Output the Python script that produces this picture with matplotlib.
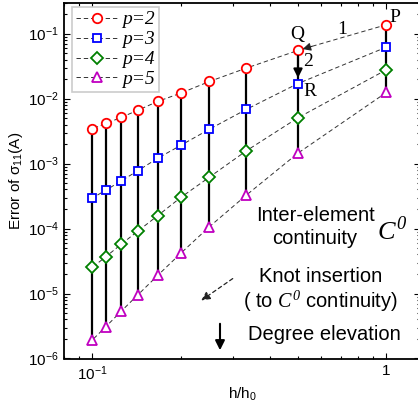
import matplotlib
matplotlib.use("Agg")
import matplotlib.pyplot as plt
from matplotlib.ticker import NullFormatter, LogLocator
import numpy as np

plt.rcParams['font.family'] = ['Liberation Sans', 'DejaVu Sans']
plt.rcParams['mathtext.fontset'] = 'custom'
plt.rcParams['mathtext.default'] = 'regular'
plt.rcParams['mathtext.it'] = 'Liberation Serif:italic'
plt.rcParams['mathtext.rm'] = 'Liberation Serif:italic'

# ---- data ----
h = [1.0, 1/2, 1/3, 1/4, 1/5, 1/6, 1/7, 1/8, 1/9, 1/10]
err_p2 = [0.1376, 0.0553, 0.0295, 0.0184, 0.0122, 0.00906, 0.00665, 0.00513, 0.00415, 0.00344]
err_p3 = [0.0622, 0.0171, 0.00682, 0.00339, 0.00192, 0.00121, 7.8e-4, 5.4e-4, 3.9e-4, 2.97e-4]
err_p4 = [0.0279, 0.00508, 0.00157, 6.2e-4, 3.03e-4, 1.58e-4, 9.2e-5, 5.7e-5, 3.7e-5, 2.54e-5]
err_p5 = [0.0125, 1.45e-3, 3.26e-4, 1.07e-4, 4.2e-5, 1.9e-5, 9.6e-6, 5.3e-6, 3.1e-6, 1.94e-6]
series_labels = ['p=2', 'p=3', 'p=4', 'p=5']
xticks = [0.1, 1.0]
xticklabels = ['10$^{-1}$', '1']
yticks = [1e-6, 1e-5, 1e-4, 1e-3, 1e-2, 1e-1]
yticklabels = ['10$^{-6}$', '10$^{-5}$', '10$^{-4}$', '10$^{-3}$', '10$^{-2}$', '10$^{-1}$']

W, H = 418, 405
fig = plt.figure(figsize=(W/100, H/100), dpi=100)

def fp(x, y):
    return (x / W, 1 - y / H)

ax = fig.add_axes([64/W, 1 - 358.5/H, (420-64)/W, (358.5-2.7)/H])
ax.set_xscale('log')
ax.set_yscale('log')

series = [err_p2, err_p3, err_p4, err_p5]
colors = ['#ff0000', '#0000ff', '#008000', '#c000c0']
markers = ['o', 's', 'D', '^']
msizes = [6.8, 6.0, 5.8, 7.5]

# vertical solid lines
lows = np.min(np.array(series), axis=0)
highs = np.max(np.array(series), axis=0)
ax.vlines(h, lows, highs, colors='k', lw=1.6, zorder=2)

for s, c, m, ms, lab in zip(series, colors, markers, msizes, series_labels):
    ax.plot(h, s, ls=(0, (4.5, 3)), lw=0.7, color='#333333', marker=m, ms=ms,
            mfc='white', mec=c, mew=1.3, label=lab, zorder=3)

ax.set_xlim(0.08, 1.3)
ax.set_ylim(1e-6, 0.3)
ax.set_xticks(xticks)
ax.set_xticklabels(xticklabels, fontsize=11)
ax.set_yticks(yticks)
ax.set_yticklabels(yticklabels, fontsize=11)
ax.xaxis.set_minor_locator(LogLocator(base=10, subs=np.arange(2, 10)))
ax.yaxis.set_minor_locator(LogLocator(base=10, subs=np.arange(2, 10)))
ax.xaxis.set_minor_formatter(NullFormatter())
ax.yaxis.set_minor_formatter(NullFormatter())
ax.tick_params(which='both', direction='in', top=True, right=True, width=0.8)
ax.tick_params(which='major', length=4, pad=4)
ax.tick_params(which='minor', length=2.2)
for sp in ax.spines.values():
    sp.set_linewidth(1.3)

ax.set_ylabel('Error of $\\sigma_{11}$(A)', fontsize=11, labelpad=2)
ax.set_xlabel('h/h$_0$', fontsize=11, labelpad=2)

leg = ax.legend(loc='upper left', bbox_to_anchor=(0.022, 0.988), borderaxespad=0,
                prop={'family': 'Liberation Serif', 'style': 'italic', 'size': 14},
                handlelength=2.2, handletextpad=0.2, labelspacing=0.12,
                borderpad=0.2, fancybox=False, framealpha=1, edgecolor='#cccccc')
leg.get_frame().set_linewidth(1.2)

# point annotations
serif = {'family': 'Liberation Serif', 'size': 14}
fig.text(*fp(395, 18), 'P', ha='center', va='center', fontdict=serif)
fig.text(*fp(297, 34), 'Q', ha='center', va='center', fontdict=serif)
fig.text(*fp(310, 92), 'R', ha='center', va='center', fontdict=serif)
fig.text(*fp(342, 30), '1', ha='center', va='center', fontdict=serif)
fig.text(*fp(308, 62), '2', ha='center', va='center', fontdict=serif)

# arrow 1: head at Q along the p=2 line (from P)
iQ = 1
lx0, ly0 = np.log10(h[iQ]), np.log10(err_p2[iQ])
lx1, ly1 = np.log10(h[0]), np.log10(err_p2[0])
tfrac = 0.16
tail = (10**(lx0 + tfrac*(lx1-lx0)), 10**(ly0 + tfrac*(ly1-ly0)))
ax.annotate('', xy=(h[iQ], err_p2[iQ]), xytext=tail,
            arrowprops=dict(arrowstyle='-|>', color='#222222', lw=0.8,
                            shrinkA=0, shrinkB=3.5, mutation_scale=12), zorder=5)
# arrow 2: Q -> R
ax.annotate('', xy=(h[iQ], err_p3[iQ]), xytext=(h[iQ], err_p2[iQ]),
            arrowprops=dict(arrowstyle='-|>', color='k', lw=1.5,
                            shrinkA=4, shrinkB=4, mutation_scale=13), zorder=5)

# explanatory text
fig.text(*fp(315, 227), 'Inter-element\ncontinuity', ha='center', va='center',
         fontsize=14.5, linespacing=1.25)
fig.text(*fp(392, 231), '$\\mathit{C}^{\\mathrm{0}}$', ha='center', va='center', fontsize=19)
fig.text(*fp(321, 277), 'Knot insertion', ha='center', va='center', fontsize=14.5)
fig.text(*fp(320, 301), '( to $\\mathit{C}^{\\mathrm{0}}$ continuity)', ha='center', va='center', fontsize=14.5)
fig.text(*fp(324, 335), 'Degree elevation', ha='center', va='center', fontsize=14.5)

fig.add_artist(matplotlib.patches.FancyArrowPatch(
    fp(235, 277), fp(199, 302), transform=fig.transFigure, arrowstyle='-|>',
    linestyle=(0, (3, 2.5)), lw=0.9, color='#222222', mutation_scale=13))
fig.add_artist(matplotlib.patches.FancyArrowPatch(
    fp(220, 321), fp(220, 353), transform=fig.transFigure, arrowstyle='-|>',
    lw=1.5, color='k', mutation_scale=14))

fig.savefig('out.png', dpi=100)
